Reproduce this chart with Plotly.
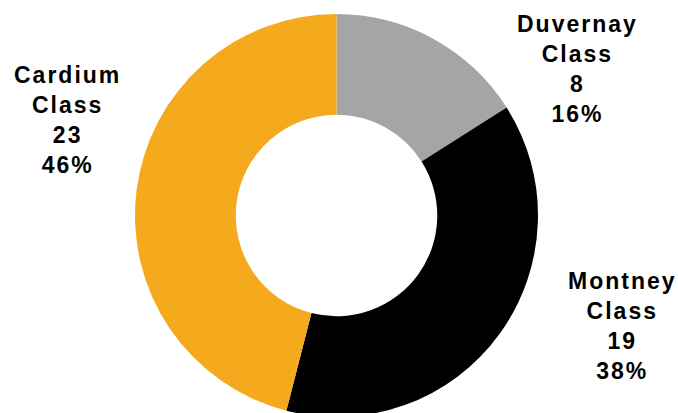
import plotly.graph_objects as go

# Well counts by class
classes = ["Duvernay", "Montney", "Cardium"]
counts = [8, 19, 23]
colors = ["#A5A5A5", "#000000", "#F5A91C"]

W, H = 678, 421
total = sum(counts)

fig = go.Figure(
    go.Pie(
        labels=[f"{c} Class" for c in classes],
        values=counts,
        marker=dict(colors=colors, line=dict(width=0)),
        hole=0.5,
        sort=False,
        direction="clockwise",
        rotation=0,
        textinfo="none",
        hoverinfo="label+value+percent",
        domain=dict(x=[135 / W, 538 / W], y=[4 / H, 407 / H]),
        showlegend=False,
    )
)

# Label block centres (pixels from top-left)
label_pos = {"Duvernay": (577, 69), "Montney": (622, 326), "Cardium": (67, 120)}

annotations = []
for name, val in zip(classes, counts):
    px, py = label_pos[name]
    pct = round(val / total * 100)
    annotations.append(
        dict(
            text=f"<b>{name}<br>Class<br>{val}<br>{pct}%</b>",
            x=px / W,
            y=1 - py / H,
            xref="paper",
            yref="paper",
            xanchor="center",
            yanchor="middle",
            align="center",
            showarrow=False,
            font=dict(family="Liberation Sans, Arial", size=23, color="#000000"),
        )
    )

fig.update_layout(
    width=W,
    height=H,
    margin=dict(l=0, r=0, t=0, b=0),
    paper_bgcolor="#FFFFFF",
    plot_bgcolor="#FFFFFF",
    annotations=annotations,
)

# Page without margins or scrollbars; labels drawn with wider tracking
post = (
    "document.body.style.margin='0';"
    "document.body.style.overflow='hidden';"
    "document.querySelectorAll('.annotation-text').forEach(function(t){"
    "t.setAttribute('letter-spacing','2px');});"
)

fig.write_html(
    "out.html",
    config={"displayModeBar": False},
    post_script=post,
)
